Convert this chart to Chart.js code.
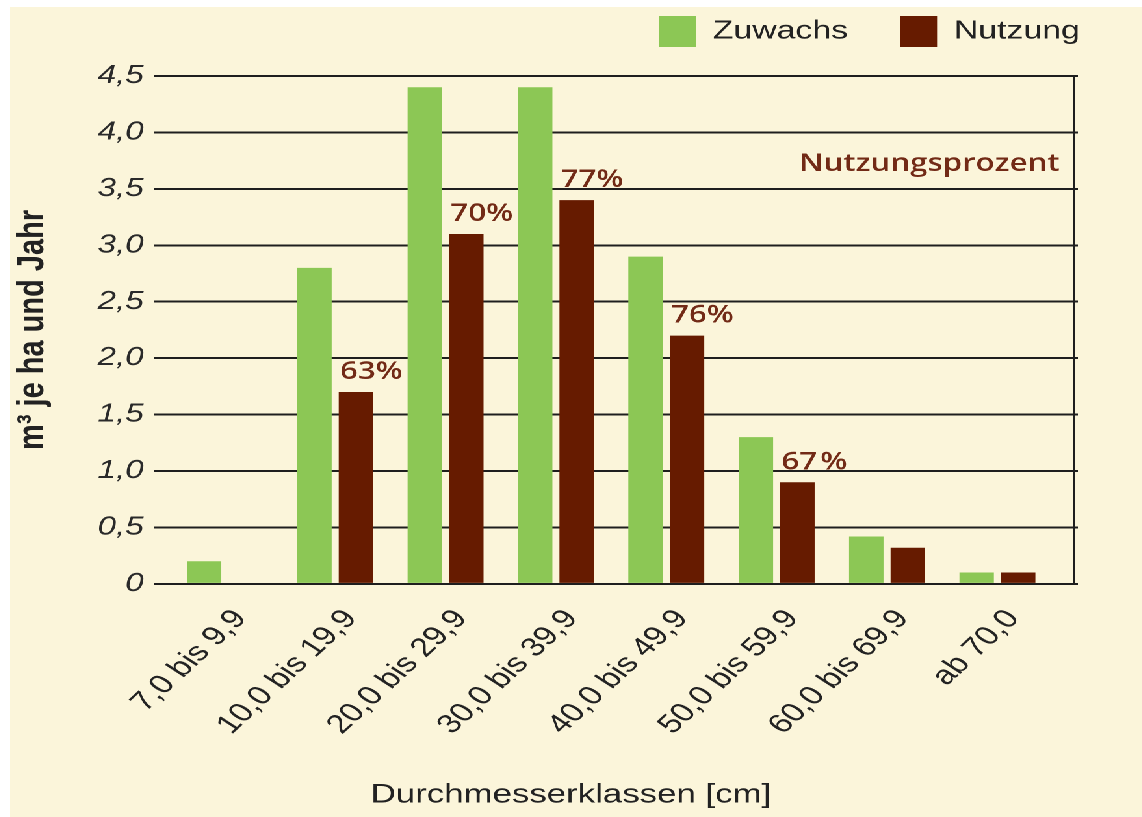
<!DOCTYPE html>
<html>
<head>
<meta charset="utf-8">
<script src="https://cdn.jsdelivr.net/npm/chart.js@4/dist/chart.umd.min.js"></script>
<style>
  html, body { margin: 0; padding: 0; background: #ffffff; width: 1142px; height: 817px; overflow: hidden; }
  #wrap { position: absolute; left: 10px; top: 7px; width: 871px; height: 810px;
          background: #FBF5DA; transform: scaleX(1.3); transform-origin: 0 0; }
</style>
</head>
<body>
<div id="wrap"><canvas id="c" width="871" height="810"></canvas></div>
<script>
// ---- data ----
const categories = ['7,0 bis 9,9', '10,0 bis 19,9', '20,0 bis 29,9', '30,0 bis 39,9',
                    '40,0 bis 49,9', '50,0 bis 59,9', '60,0 bis 69,9', 'ab 70,0'];
const zuwachs = [0.2, 2.8, 4.4, 4.4, 2.9, 1.3, 0.42, 0.1];
const nutzung = [0, 1.7, 3.1, 3.4, 2.2, 0.9, 0.32, 0.1];
const nutzungsprozent = [null, '63%', '70%', '77%', '76%', '67\u200A%', null, null];
const yTickLabels = ['0', '0,5', '1,0', '1,5', '2,0', '2,5', '3,0', '3,5', '4,0', '4,5'];
const seriesNames = ['Zuwachs', 'Nutzung'];
const yAxisTitle = 'm³ je ha und Jahr';
const xAxisTitle = 'Durchmesserklassen [cm]';
const annotationTitle = 'Nutzungsprozent';

const GREEN = '#8CC755';
const BROWN = '#661B00';
const TEXT = '#222222';
const LABEL_BROWN = '#722A16';
const GRID = '#1E1E1E';

// legend block height (so the plot area starts below it)
const legendFitPlugin = {
  id: 'legendFit',
  beforeLayout(chart) {
    const lg = chart.legend;
    if (lg && !lg._fitPatched) {
      const orig = lg.fit;
      lg.fit = function () { orig.call(this); this.height = 100; };
      lg._fitPatched = true;
    }
  }
};

const pctPlugin = {
  id: 'pctLabels',
  afterDatasetsDraw(chart) {
    const ctx = chart.ctx;
    const meta = chart.getDatasetMeta(1);
    ctx.save();
    ctx.fillStyle = LABEL_BROWN;
    ctx.font = '600 24px "Open Sans"';
    ctx.textAlign = 'left';
    ctx.textBaseline = 'alphabetic';
    nutzungsprozent.forEach((t, i) => {
      if (!t) return;
      const bar = meta.data[i];
      ctx.fillText(t, bar.x - bar.width / 2 + 1, bar.y - 13);
    });
    const ca = chart.chartArea;
    ctx.textAlign = 'right';
    ctx.font = '600 24px "Open Sans"';
    ctx.fillText(annotationTitle, ca.right - 11, ca.top + 95);
    ctx.restore();
  }
};

new Chart(document.getElementById('c'), {
  type: 'bar',
  data: {
    datasets: [
      { label: seriesNames[0], data: zuwachs.map((v, i) => ({ x: i, y: v })), backgroundColor: GREEN, yAxisID: 'y' },
      { label: seriesNames[1], data: nutzung.map((v, i) => ({ x: i, y: v })), backgroundColor: BROWN, yAxisID: 'y' }
    ]
  },
  plugins: [legendFitPlugin, pctPlugin],
  options: {
    responsive: false,
    animation: false,
    devicePixelRatio: 2,
    categoryPercentage: 0.752,
    barPercentage: 0.83,
    layout: { padding: { top: -31, right: 8, left: 0, bottom: 0 } },
    plugins: {
      legend: {
        position: 'top',
        align: 'end',
        labels: {
          boxWidth: 28.5, boxHeight: 31, padding: 40,
          color: TEXT,
          font: { family: '"Liberation Sans", Arial, sans-serif', size: 26 }
        }
      },
      title: {
        display: true,
        position: 'bottom',
        text: xAxisTitle,
        color: TEXT,
        font: { family: '"Liberation Sans", Arial, sans-serif', size: 26.8, weight: 'normal' },
        padding: { top: 0, bottom: 6 }
      },
      tooltip: { enabled: false }
    },
    scales: {
      x: {
        type: 'linear',
        offset: false,
        min: -0.641,
        max: 7.694,
        grid: { display: false, offset: false },
        border: { display: false },
        afterBuildTicks(scale) { scale.ticks = categories.map((_, i) => ({ value: i })); },
        afterFit(scale) { scale.height = 195; },
        ticks: {
          autoSkip: false,
          maxRotation: 50, minRotation: 50,
          padding: 12,
          labelOffset: 12,
          color: TEXT,
          font: { family: '"Liberation Sans", Arial, sans-serif', size: 26.5 },
          callback: (v) => categories[v]
        }
      },
      y: {
        position: 'left',
        min: 0, max: 4.5,
        afterFit(scale) { scale.width = 110.8; },
        ticks: {
          stepSize: 0.5,
          padding: 8,
          color: '#2a2a2a',
          font: { family: '"Liberation Sans", Arial, sans-serif', size: 25.5, style: 'italic' },
          callback: (v, idx) => yTickLabels[idx]
        },
        grid: { color: GRID, lineWidth: 2, drawTicks: false },
        border: { display: false },
        title: {
          display: true,
          text: yAxisTitle,
          color: TEXT,
          padding: { top: 0, bottom: 0 },
          font: { family: '"Liberation Sans", Arial, sans-serif', size: 29, weight: 'bold' }
        }
      },
      y2: {
        position: 'right',
        min: 0, max: 4.5,
        afterFit(scale) { scale.width = 44.5; },
        ticks: { stepSize: 0.5, display: false },
        grid: { drawOnChartArea: false, drawTicks: true, tickLength: 3, color: GRID, lineWidth: 2 },
        border: { display: true, color: GRID, width: 2 }
      }
    }
  }
});
</script>
</body>
</html>
